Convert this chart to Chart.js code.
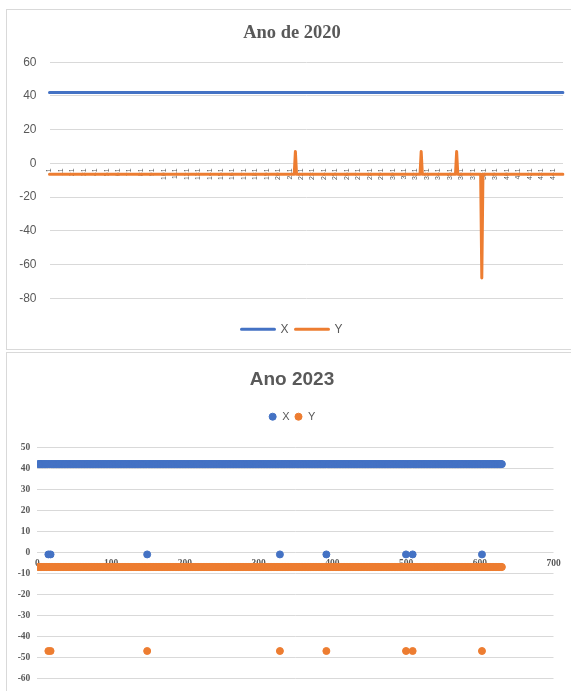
<!DOCTYPE html>
<html>
<head>
<meta charset="utf-8">
<title>Ano de 2020 / Ano 2023</title>
<script src="https://cdn.jsdelivr.net/npm/chart.js@4.4.0/dist/chart.umd.min.js"></script>
<style>
  html, body { margin: 0; padding: 0; background: #fff; width: 571px; height: 691px; overflow: hidden; }
  .caixa { position: absolute; left: 6px; width: 600px; border: 1px solid #d9d9d9; }
  #caixa2020 { top: 9px; height: 339px; }
  #caixa2023 { top: 352px; height: 400px; }
  canvas { position: absolute; left: 0; top: 0; }
</style>
</head>
<body>
<div class="caixa" id="caixa2020"><canvas id="grafico2020" width="570" height="339"></canvas></div>
<div class="caixa" id="caixa2023"><canvas id="grafico2023" width="570" height="338"></canvas></div>
<script>
// ---- Ano de 2020: categorias 1..450 (rótulos de 10 em 10)
var categorias2020 = [];
for (var i = 1; i <= 450; i++) categorias2020.push(String(i));

var serieX2020 = [
  42, 42, 42, 42, 42, 42, 42, 42, 42, 42, // 1
  42, 42, 42, 42, 42, 42, 42, 42, 42, 42, // 11
  42, 42, 42, 42, 42, 42, 42, 42, 42, 42, // 21
  42, 42, 42, 42, 42, 42, 42, 42, 42, 42, // 31
  42, 42, 42, 42, 42, 42, 42, 42, 42, 42, // 41
  42, 42, 42, 42, 42, 42, 42, 42, 42, 42, // 51
  42, 42, 42, 42, 42, 42, 42, 42, 42, 42, // 61
  42, 42, 42, 42, 42, 42, 42, 42, 42, 42, // 71
  42, 42, 42, 42, 42, 42, 42, 42, 42, 42, // 81
  42, 42, 42, 42, 42, 42, 42, 42, 42, 42, // 91
  42, 42, 42, 42, 42, 42, 42, 42, 42, 42, // 101
  42, 42, 42, 42, 42, 42, 42, 42, 42, 42, // 111
  42, 42, 42, 42, 42, 42, 42, 42, 42, 42, // 121
  42, 42, 42, 42, 42, 42, 42, 42, 42, 42, // 131
  42, 42, 42, 42, 42, 42, 42, 42, 42, 42, // 141
  42, 42, 42, 42, 42, 42, 42, 42, 42, 42, // 151
  42, 42, 42, 42, 42, 42, 42, 42, 42, 42, // 161
  42, 42, 42, 42, 42, 42, 42, 42, 42, 42, // 171
  42, 42, 42, 42, 42, 42, 42, 42, 42, 42, // 181
  42, 42, 42, 42, 42, 42, 42, 42, 42, 42, // 191
  42, 42, 42, 42, 42, 42, 42, 42, 42, 42, // 201
  42, 42, 42, 42, 42, 42, 42, 42, 42, 42, // 211
  42, 42, 42, 42, 42, 42, 42, 42, 42, 42, // 221
  42, 42, 42, 42, 42, 42, 42, 42, 42, 42, // 231
  42, 42, 42, 42, 42, 42, 42, 42, 42, 42, // 241
  42, 42, 42, 42, 42, 42, 42, 42, 42, 42, // 251
  42, 42, 42, 42, 42, 42, 42, 42, 42, 42, // 261
  42, 42, 42, 42, 42, 42, 42, 42, 42, 42, // 271
  42, 42, 42, 42, 42, 42, 42, 42, 42, 42, // 281
  42, 42, 42, 42, 42, 42, 42, 42, 42, 42, // 291
  42, 42, 42, 42, 42, 42, 42, 42, 42, 42, // 301
  42, 42, 42, 42, 42, 42, 42, 42, 42, 42, // 311
  42, 42, 42, 42, 42, 42, 42, 42, 42, 42, // 321
  42, 42, 42, 42, 42, 42, 42, 42, 42, 42, // 331
  42, 42, 42, 42, 42, 42, 42, 42, 42, 42, // 341
  42, 42, 42, 42, 42, 42, 42, 42, 42, 42, // 351
  42, 42, 42, 42, 42, 42, 42, 42, 42, 42, // 361
  42, 42, 42, 42, 42, 42, 42, 42, 42, 42, // 371
  42, 42, 42, 42, 42, 42, 42, 42, 42, 42, // 381
  42, 42, 42, 42, 42, 42, 42, 42, 42, 42, // 391
  42, 42, 42, 42, 42, 42, 42, 42, 42, 42, // 401
  42, 42, 42, 42, 42, 42, 42, 42, 42, 42, // 411
  42, 42, 42, 42, 42, 42, 42, 42, 42, 42, // 421
  42, 42, 42, 42, 42, 42, 42, 42, 42, 42, // 431
  42, 42, 42, 42, 42, 42, 42, 42, 42, 42  // 441
];

var serieY2020 = [
  -6.5, -6.5, -6.5, -6.5, -6.5, -6.5, -6.5, -6.5, -6.5, -6.5, // 1
  -6.5, -6.5, -6.5, -6.5, -6.5, -6.5, -6.5, -6.5, -6.5, -6.5, // 11
  -6.5, -6.5, -6.5, -6.5, -6.5, -6.5, -6.5, -6.5, -6.5, -6.5, // 21
  -6.5, -6.5, -6.5, -6.5, -6.5, -6.5, -6.5, -6.5, -6.5, -6.5, // 31
  -6.5, -6.5, -6.5, -6.5, -6.5, -6.5, -6.5, -6.5, -6.5, -6.5, // 41
  -6.5, -6.5, -6.5, -6.5, -6.5, -6.5, -6.5, -6.5, -6.5, -6.5, // 51
  -6.5, -6.5, -6.5, -6.5, -6.5, -6.5, -6.5, -6.5, -6.5, -6.5, // 61
  -6.5, -6.5, -6.5, -6.5, -6.5, -6.5, -6.5, -6.5, -6.5, -6.5, // 71
  -6.5, -6.5, -6.5, -6.5, -6.5, -6.5, -6.5, -6.5, -6.5, -6.5, // 81
  -6.5, -6.5, -6.5, -6.5, -6.5, -6.5, -6.5, -6.5, -6.5, -6.5, // 91
  -6.5, -6.5, -6.5, -6.5, -6.5, -6.5, -6.5, -6.5, -6.5, -6.5, // 101
  -6.5, -6.5, -6.5, -6.5, -6.5, -6.5, -6.5, -6.5, -6.5, -6.5, // 111
  -6.5, -6.5, -6.5, -6.5, -6.5, -6.5, -6.5, -6.5, -6.5, -6.5, // 121
  -6.5, -6.5, -6.5, -6.5, -6.5, -6.5, -6.5, -6.5, -6.5, -6.5, // 131
  -6.5, -6.5, -6.5, -6.5, -6.5, -6.5, -6.5, -6.5, -6.5, -6.5, // 141
  -6.5, -6.5, -6.5, -6.5, -6.5, -6.5, -6.5, -6.5, -6.5, -6.5, // 151
  -6.5, -6.5, -6.5, -6.5, -6.5, -6.5, -6.5, -6.5, -6.5, -6.5, // 161
  -6.5, -6.5, -6.5, -6.5, -6.5, -6.5, -6.5, -6.5, -6.5, -6.5, // 171
  -6.5, -6.5, -6.5, -6.5, -6.5, -6.5, -6.5, -6.5, -6.5, -6.5, // 181
  -6.5, -6.5, -6.5, -6.5, -6.5, -6.5, -6.5, -6.5, -6.5, -6.5, // 191
  -6.5, -6.5, -6.5, -6.5, -6.5, -6.5, -6.5, -6.5, -6.5, -6.5, // 201
  -6.5, -6.5, -6.5, -6.5, -6.5, 7,    -6.5, -6.5, -6.5, -6.5, // 211 (pico em 216)
  -6.5, -6.5, -6.5, -6.5, -6.5, -6.5, -6.5, -6.5, -6.5, -6.5, // 221
  -6.5, -6.5, -6.5, -6.5, -6.5, -6.5, -6.5, -6.5, -6.5, -6.5, // 231
  -6.5, -6.5, -6.5, -6.5, -6.5, -6.5, -6.5, -6.5, -6.5, -6.5, // 241
  -6.5, -6.5, -6.5, -6.5, -6.5, -6.5, -6.5, -6.5, -6.5, -6.5, // 251
  -6.5, -6.5, -6.5, -6.5, -6.5, -6.5, -6.5, -6.5, -6.5, -6.5, // 261
  -6.5, -6.5, -6.5, -6.5, -6.5, -6.5, -6.5, -6.5, -6.5, -6.5, // 271
  -6.5, -6.5, -6.5, -6.5, -6.5, -6.5, -6.5, -6.5, -6.5, -6.5, // 281
  -6.5, -6.5, -6.5, -6.5, -6.5, -6.5, -6.5, -6.5, -6.5, -6.5, // 291
  -6.5, -6.5, -6.5, -6.5, -6.5, -6.5, -6.5, -6.5, -6.5, -6.5, // 301
  -6.5, -6.5, -6.5, -6.5, -6.5, -6.5, -6.5, -6.5, -6.5, -6.5, // 311
  -6.5, -6.5, -6.5, -6.5, -6.5, 7,    -6.5, -6.5, -6.5, -6.5, // 321 (pico em 326)
  -6.5, -6.5, -6.5, -6.5, -6.5, -6.5, -6.5, -6.5, -6.5, -6.5, // 331
  -6.5, -6.5, -6.5, -6.5, -6.5, -6.5, -6.5, -6.5, -6.5, -6.5, // 341
  -6.5, -6.5, -6.5, -6.5, -6.5, -6.5, 7,    -6.5, -6.5, -6.5, // 351 (pico em 357)
  -6.5, -6.5, -6.5, -6.5, -6.5, -6.5, -6.5, -6.5, -6.5, -6.5, // 361
  -6.5, -6.5, -6.5, -6.5, -6.5, -6.5, -6.5, -6.5, -68,  -6.5, // 371 (queda em 379)
  -6.5, -6.5, -6.5, -6.5, -6.5, -6.5, -6.5, -6.5, -6.5, -6.5, // 381
  -6.5, -6.5, -6.5, -6.5, -6.5, -6.5, -6.5, -6.5, -6.5, -6.5, // 391
  -6.5, -6.5, -6.5, -6.5, -6.5, -6.5, -6.5, -6.5, -6.5, -6.5, // 401
  -6.5, -6.5, -6.5, -6.5, -6.5, -6.5, -6.5, -6.5, -6.5, -6.5, // 411
  -6.5, -6.5, -6.5, -6.5, -6.5, -6.5, -6.5, -6.5, -6.5, -6.5, // 421
  -6.5, -6.5, -6.5, -6.5, -6.5, -6.5, -6.5, -6.5, -6.5, -6.5, // 431
  -6.5, -6.5, -6.5, -6.5, -6.5, -6.5, -6.5, -6.5, -6.5, -6.5  // 441
];

// ---- Ano 2023: pontos x = 1..630
var indices2023 = [];
for (var j = 1; j <= 630; j++) indices2023.push(j);

var serieX2023 = [
  42, 42, 42, 42, 42, 42, 42, 42, 42, 42, // 1
  42, 42, 42, 42, -1, 42, 42, -1, 42, 42, // 11 (15, 18)
  42, 42, 42, 42, 42, 42, 42, 42, 42, 42, // 21
  42, 42, 42, 42, 42, 42, 42, 42, 42, 42, // 31
  42, 42, 42, 42, 42, 42, 42, 42, 42, 42, // 41
  42, 42, 42, 42, 42, 42, 42, 42, 42, 42, // 51
  42, 42, 42, 42, 42, 42, 42, 42, 42, 42, // 61
  42, 42, 42, 42, 42, 42, 42, 42, 42, 42, // 71
  42, 42, 42, 42, 42, 42, 42, 42, 42, 42, // 81
  42, 42, 42, 42, 42, 42, 42, 42, 42, 42, // 91
  42, 42, 42, 42, 42, 42, 42, 42, 42, 42, // 101
  42, 42, 42, 42, 42, 42, 42, 42, 42, 42, // 111
  42, 42, 42, 42, 42, 42, 42, 42, 42, 42, // 121
  42, 42, 42, 42, 42, 42, 42, 42, 42, 42, // 131
  42, 42, 42, 42, 42, 42, 42, 42, -1, 42, // 141 (149)
  42, 42, 42, 42, 42, 42, 42, 42, 42, 42, // 151
  42, 42, 42, 42, 42, 42, 42, 42, 42, 42, // 161
  42, 42, 42, 42, 42, 42, 42, 42, 42, 42, // 171
  42, 42, 42, 42, 42, 42, 42, 42, 42, 42, // 181
  42, 42, 42, 42, 42, 42, 42, 42, 42, 42, // 191
  42, 42, 42, 42, 42, 42, 42, 42, 42, 42, // 201
  42, 42, 42, 42, 42, 42, 42, 42, 42, 42, // 211
  42, 42, 42, 42, 42, 42, 42, 42, 42, 42, // 221
  42, 42, 42, 42, 42, 42, 42, 42, 42, 42, // 231
  42, 42, 42, 42, 42, 42, 42, 42, 42, 42, // 241
  42, 42, 42, 42, 42, 42, 42, 42, 42, 42, // 251
  42, 42, 42, 42, 42, 42, 42, 42, 42, 42, // 261
  42, 42, 42, 42, 42, 42, 42, 42, 42, 42, // 271
  42, 42, 42, 42, 42, 42, 42, 42, 42, 42, // 281
  42, 42, 42, 42, 42, 42, 42, 42, 42, 42, // 291
  42, 42, 42, 42, 42, 42, 42, 42, 42, 42, // 301
  42, 42, 42, 42, 42, 42, 42, 42, 42, 42, // 311
  42, 42, 42, 42, 42, 42, 42, 42, -1, 42, // 321 (329)
  42, 42, 42, 42, 42, 42, 42, 42, 42, 42, // 331
  42, 42, 42, 42, 42, 42, 42, 42, 42, 42, // 341
  42, 42, 42, 42, 42, 42, 42, 42, 42, 42, // 351
  42, 42, 42, 42, 42, 42, 42, 42, 42, 42, // 361
  42, 42, 42, 42, 42, 42, 42, 42, 42, 42, // 371
  42, 42, 42, 42, 42, 42, 42, 42, 42, 42, // 381
  42, -1, 42, 42, 42, 42, 42, 42, 42, 42, // 391 (392)
  42, 42, 42, 42, 42, 42, 42, 42, 42, 42, // 401
  42, 42, 42, 42, 42, 42, 42, 42, 42, 42, // 411
  42, 42, 42, 42, 42, 42, 42, 42, 42, 42, // 421
  42, 42, 42, 42, 42, 42, 42, 42, 42, 42, // 431
  42, 42, 42, 42, 42, 42, 42, 42, 42, 42, // 441
  42, 42, 42, 42, 42, 42, 42, 42, 42, 42, // 451
  42, 42, 42, 42, 42, 42, 42, 42, 42, 42, // 461
  42, 42, 42, 42, 42, 42, 42, 42, 42, 42, // 471
  42, 42, 42, 42, 42, 42, 42, 42, 42, 42, // 481
  42, 42, 42, 42, 42, 42, 42, 42, 42, -1, // 491 (500)
  42, 42, 42, 42, 42, 42, 42, 42, -1, 42, // 501 (509)
  42, 42, 42, 42, 42, 42, 42, 42, 42, 42, // 511
  42, 42, 42, 42, 42, 42, 42, 42, 42, 42, // 521
  42, 42, 42, 42, 42, 42, 42, 42, 42, 42, // 531
  42, 42, 42, 42, 42, 42, 42, 42, 42, 42, // 541
  42, 42, 42, 42, 42, 42, 42, 42, 42, 42, // 551
  42, 42, 42, 42, 42, 42, 42, 42, 42, 42, // 561
  42, 42, 42, 42, 42, 42, 42, 42, 42, 42, // 571
  42, 42, 42, 42, 42, 42, 42, 42, 42, 42, // 581
  42, 42, 42, 42, 42, 42, 42, 42, 42, 42, // 591
  42, 42, -1, 42, 42, 42, 42, 42, 42, 42, // 601 (603)
  42, 42, 42, 42, 42, 42, 42, 42, 42, 42, // 611
  42, 42, 42, 42, 42, 42, 42, 42, 42, 42  // 621
];

var serieY2023 = [
  -7, -7, -7, -7, -7, -7, -7, -7, -7, -7, // 1
  -7, -7, -7, -7, -47, -7, -7, -47, -7, -7, // 11 (15, 18)
  -7, -7, -7, -7, -7, -7, -7, -7, -7, -7, // 21
  -7, -7, -7, -7, -7, -7, -7, -7, -7, -7, // 31
  -7, -7, -7, -7, -7, -7, -7, -7, -7, -7, // 41
  -7, -7, -7, -7, -7, -7, -7, -7, -7, -7, // 51
  -7, -7, -7, -7, -7, -7, -7, -7, -7, -7, // 61
  -7, -7, -7, -7, -7, -7, -7, -7, -7, -7, // 71
  -7, -7, -7, -7, -7, -7, -7, -7, -7, -7, // 81
  -7, -7, -7, -7, -7, -7, -7, -7, -7, -7, // 91
  -7, -7, -7, -7, -7, -7, -7, -7, -7, -7, // 101
  -7, -7, -7, -7, -7, -7, -7, -7, -7, -7, // 111
  -7, -7, -7, -7, -7, -7, -7, -7, -7, -7, // 121
  -7, -7, -7, -7, -7, -7, -7, -7, -7, -7, // 131
  -7, -7, -7, -7, -7, -7, -7, -7, -47, -7, // 141 (149)
  -7, -7, -7, -7, -7, -7, -7, -7, -7, -7, // 151
  -7, -7, -7, -7, -7, -7, -7, -7, -7, -7, // 161
  -7, -7, -7, -7, -7, -7, -7, -7, -7, -7, // 171
  -7, -7, -7, -7, -7, -7, -7, -7, -7, -7, // 181
  -7, -7, -7, -7, -7, -7, -7, -7, -7, -7, // 191
  -7, -7, -7, -7, -7, -7, -7, -7, -7, -7, // 201
  -7, -7, -7, -7, -7, -7, -7, -7, -7, -7, // 211
  -7, -7, -7, -7, -7, -7, -7, -7, -7, -7, // 221
  -7, -7, -7, -7, -7, -7, -7, -7, -7, -7, // 231
  -7, -7, -7, -7, -7, -7, -7, -7, -7, -7, // 241
  -7, -7, -7, -7, -7, -7, -7, -7, -7, -7, // 251
  -7, -7, -7, -7, -7, -7, -7, -7, -7, -7, // 261
  -7, -7, -7, -7, -7, -7, -7, -7, -7, -7, // 271
  -7, -7, -7, -7, -7, -7, -7, -7, -7, -7, // 281
  -7, -7, -7, -7, -7, -7, -7, -7, -7, -7, // 291
  -7, -7, -7, -7, -7, -7, -7, -7, -7, -7, // 301
  -7, -7, -7, -7, -7, -7, -7, -7, -7, -7, // 311
  -7, -7, -7, -7, -7, -7, -7, -7, -47, -7, // 321 (329)
  -7, -7, -7, -7, -7, -7, -7, -7, -7, -7, // 331
  -7, -7, -7, -7, -7, -7, -7, -7, -7, -7, // 341
  -7, -7, -7, -7, -7, -7, -7, -7, -7, -7, // 351
  -7, -7, -7, -7, -7, -7, -7, -7, -7, -7, // 361
  -7, -7, -7, -7, -7, -7, -7, -7, -7, -7, // 371
  -7, -7, -7, -7, -7, -7, -7, -7, -7, -7, // 381
  -7, -47, -7, -7, -7, -7, -7, -7, -7, -7, // 391 (392)
  -7, -7, -7, -7, -7, -7, -7, -7, -7, -7, // 401
  -7, -7, -7, -7, -7, -7, -7, -7, -7, -7, // 411
  -7, -7, -7, -7, -7, -7, -7, -7, -7, -7, // 421
  -7, -7, -7, -7, -7, -7, -7, -7, -7, -7, // 431
  -7, -7, -7, -7, -7, -7, -7, -7, -7, -7, // 441
  -7, -7, -7, -7, -7, -7, -7, -7, -7, -7, // 451
  -7, -7, -7, -7, -7, -7, -7, -7, -7, -7, // 461
  -7, -7, -7, -7, -7, -7, -7, -7, -7, -7, // 471
  -7, -7, -7, -7, -7, -7, -7, -7, -7, -7, // 481
  -7, -7, -7, -7, -7, -7, -7, -7, -7, -47, // 491 (500)
  -7, -7, -7, -7, -7, -7, -7, -7, -47, -7, // 501 (509)
  -7, -7, -7, -7, -7, -7, -7, -7, -7, -7, // 511
  -7, -7, -7, -7, -7, -7, -7, -7, -7, -7, // 521
  -7, -7, -7, -7, -7, -7, -7, -7, -7, -7, // 531
  -7, -7, -7, -7, -7, -7, -7, -7, -7, -7, // 541
  -7, -7, -7, -7, -7, -7, -7, -7, -7, -7, // 551
  -7, -7, -7, -7, -7, -7, -7, -7, -7, -7, // 561
  -7, -7, -7, -7, -7, -7, -7, -7, -7, -7, // 571
  -7, -7, -7, -7, -7, -7, -7, -7, -7, -7, // 581
  -7, -7, -7, -7, -7, -7, -7, -7, -7, -7, // 591
  -7, -7, -47, -7, -7, -7, -7, -7, -7, -7, // 601 (603)
  -7, -7, -7, -7, -7, -7, -7, -7, -7, -7, // 611
  -7, -7, -7, -7, -7, -7, -7, -7, -7, -7  // 621
];

var azul = "#4472C4";
var laranja = "#ED7D31";
var cinza = "#595959";
var grade = "#d9d9d9";

Chart.defaults.font.family = "'Liberation Sans', Arial, sans-serif";
Chart.defaults.color = cinza;

function pontos(serie) {
	var out = [];
	for (var k = 0; k < serie.length; k++) out.push({x: indices2023[k], y: serie[k]});
	return out;
}

// ---- grafico de linhas 2020
new Chart(document.getElementById("grafico2020"), {
	type: "line",
	data: {
		labels: categorias2020,
		datasets: [
			{
				label: "X",
				data: serieX2020,
				borderColor: azul,
				backgroundColor: azul,
				borderWidth: 3,
				pointRadius: 0,
				tension: 0,
				borderCapStyle: "round",
				borderJoinStyle: "round"
			},
			{
				label: "Y",
				data: serieY2020,
				borderColor: laranja,
				backgroundColor: laranja,
				borderWidth: 3,
				pointRadius: 0,
				tension: 0,
				borderCapStyle: "round",
				borderJoinStyle: "round"
			}
		]
	},
	options: {
		responsive: false,
		animation: false,
		events: [],
		layout: { padding: { left: 0, right: 0, top: 0, bottom: 3.7 } },
		plugins: {
			title: {
				display: true,
				text: "Ano de 2020",
				color: cinza,
				font: { family: "'Liberation Serif', 'Times New Roman', serif", size: 18.5, weight: "bold" },
				padding: { top: 12, bottom: 18 }
			},
			legend: {
				position: "bottom",
				labels: { boxWidth: 33, boxHeight: 0, padding: 7, color: cinza, font: { size: 12 } }
			},
			tooltip: { enabled: false }
		},
		scales: {
			x: {
				position: { y: 0 },
				grid: { display: false, drawTicks: false },
				border: { display: false },
				ticks: {
					autoSkip: false,
					maxRotation: 90,
					minRotation: 90,
					padding: 5,
					color: cinza,
					font: { size: 7 },
					callback: function(v, idx) { return idx % 10 === 0 ? categorias2020[idx] : ""; }
				},
				// margem direita da area do grafico (titulo e legenda continuam centrados no quadro)
				afterFit: function(s) { s.paddingRight = 14; }
			},
			y: {
				// limite inferior um pouco abaixo de -80 para abrir espaço até a legenda
				min: -90.7,
				max: 60,
				grid: { color: grade, lineWidth: 1, drawTicks: false },
				border: { display: false },
				ticks: { stepSize: 20, includeBounds: false, padding: 13, color: cinza, font: { size: 12 } },
				afterFit: function(s) { s.width = 42.5; }
			}
		}
	}
});

// ---- grafico de dispersao 2023
var fonteSerif = { family: "'Liberation Serif', 'Times New Roman', serif", size: 9.5, weight: "bold" };

new Chart(document.getElementById("grafico2023"), {
	type: "scatter",
	data: {
		datasets: [
			{
				label: "X",
				data: pontos(serieX2023),
				backgroundColor: azul,
				borderColor: azul,
				borderWidth: 1,
				pointRadius: 3.5
			},
			{
				label: "Y",
				data: pontos(serieY2023),
				backgroundColor: laranja,
				borderColor: laranja,
				borderWidth: 1,
				pointRadius: 3.5
			}
		]
	},
	options: {
		responsive: false,
		animation: false,
		events: [],
		layout: { padding: { left: 0, right: 0, top: 0, bottom: 11.7 } },
		plugins: {
			title: {
				display: true,
				text: "Ano 2023",
				color: cinza,
				font: { size: 19, weight: "bold" },
				padding: { top: 14.9, bottom: 15.5 }
			},
			legend: {
				position: "top",
				labels: { usePointStyle: true, pointStyle: "circle", boxWidth: 8, boxHeight: 5, padding: 5, color: cinza, font: { size: 11 } }
			},
			tooltip: { enabled: false }
		},
		scales: {
			x: {
				type: "linear",
				min: 0,
				max: 700,
				position: { y: 0 },
				grid: { display: false, drawTicks: false },
				border: { display: false },
				ticks: { stepSize: 100, padding: 5.6, color: cinza, font: fonteSerif, maxRotation: 0 },
				afterFit: function(s) { s.paddingRight = 23.5; }
			},
			y: {
				min: -60,
				// topo acima de 50 para deixar o espaço sob a legenda
				max: 57.2,
				grid: { color: grade, lineWidth: 1, drawTicks: false },
				border: { display: false },
				ticks: { stepSize: 10, includeBounds: false, padding: 7, color: cinza, font: fonteSerif },
				afterFit: function(s) { s.width = 30.3; }
			}
		}
	}
});
</script>
</body>
</html>
